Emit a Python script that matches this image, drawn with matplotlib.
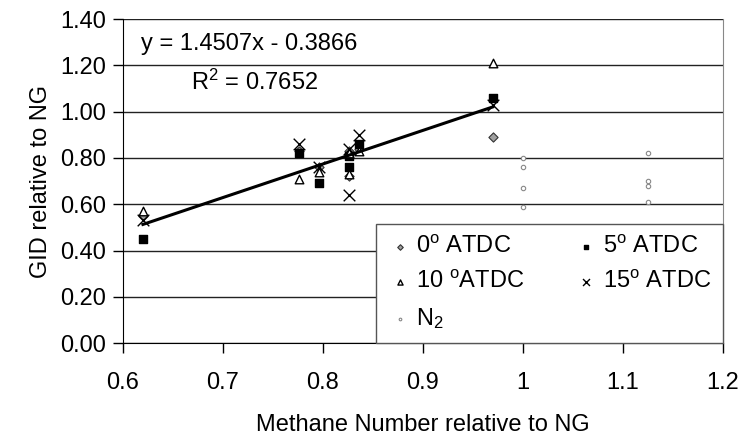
import numpy as np
import matplotlib
matplotlib.use("Agg")
import matplotlib.pyplot as plt

plt.rcParams['font.family'] = ['Liberation Sans', 'DejaVu Sans']
plt.rcParams['mathtext.fontset'] = 'custom'
plt.rcParams['mathtext.rm'] = 'Liberation Sans'
plt.rcParams['mathtext.it'] = 'Liberation Sans'

# Methane number relative to NG for each fuel
mn = [0.62, 0.776, 0.796, 0.826, 0.826, 0.836, 0.97]
gid_0 = [0.55, 0.83, 0.76, 0.83, 0.72, 0.84, 0.89]
gid_5 = [0.45, 0.82, 0.69, 0.81, 0.76, 0.86, 1.06]
gid_10 = [0.57, 0.71, 0.74, 0.82, 0.73, 0.83, 1.21]
gid_15 = [0.53, 0.86, 0.76, 0.84, 0.64, 0.90, 1.03]

# N2 diluted fuels
mn_n2 = [1.0, 1.0, 1.0, 1.0, 1.125, 1.125, 1.125, 1.125]
gid_n2 = [0.80, 0.76, 0.67, 0.59, 0.82, 0.70, 0.68, 0.61]

# trendline
slope = 1.4507
intercept = -0.3866

FS = 17

fig = plt.figure(figsize=(7.45, 4.45), dpi=100)
ax = fig.add_axes([0.165, 0.229, 0.805, 0.728])

ax.set_axisbelow(True)
ax.yaxis.grid(True, color='#222222', linewidth=1.0)

h0 = ax.scatter(mn, gid_0, marker='D', s=22, facecolor='#a0a0a0', edgecolor='#333333',
                linewidth=0.8, label='0$^{\\rm o}$ ATDC', zorder=3)
h5 = ax.scatter(mn, gid_5, marker='s', s=30, facecolor='black', edgecolor='black',
                label='5$^{\\rm o}$ ATDC', zorder=3)
h10 = ax.scatter(mn, gid_10, marker='^', s=38, facecolor='white', edgecolor='black',
                 linewidth=1.0, label='10 $^{\\rm o}$ATDC', zorder=3)
h15 = ax.scatter(mn, gid_15, marker='x', s=70, color='black', linewidth=1.0,
                 label='15$^{\\rm o}$ ATDC', zorder=3)
hn2 = ax.scatter(mn_n2, gid_n2, marker='o', s=10, facecolor='white', edgecolor='#888888',
                 linewidth=0.8, label='N$_2$', zorder=3)

xl = np.array([min(mn), max(mn)])
ax.plot(xl, slope * xl + intercept, color='black', linewidth=2.2, zorder=4)

ax.text(0.618, 1.294, 'y = 1.4507x - 0.3866', fontsize=FS, ha='left', va='center', zorder=5)
ax.text(0.668, 1.125, 'R$^2$ = 0.7652', fontsize=FS, ha='left', va='center', zorder=5)

ax.set_xlim(0.6, 1.2)
ax.set_ylim(0, 1.4)
ax.set_xticks([0.6, 0.7, 0.8, 0.9, 1.0, 1.1, 1.2])
ax.set_xticklabels(['0.6', '0.7', '0.8', '0.9', '1', '1.1', '1.2'])
ax.set_yticks(np.arange(0, 1.41, 0.2))
ax.set_yticklabels(['%.2f' % v for v in np.arange(0, 1.41, 0.2)])
ax.tick_params(axis='both', direction='out', length=7, width=1, labelsize=FS, pad=5)
ax.tick_params(axis='x', pad=14)

ax.spines['top'].set_visible(False)
ax.spines['right'].set_color('#888888')
ax.spines['left'].set_color('black')
ax.spines['bottom'].set_color('black')

ax.set_xlabel('Methane Number relative to NG', fontsize=FS, labelpad=14)
ax.set_ylabel('GID relative to NG', fontsize=FS, labelpad=6)

# column-major order so rows read 0/5, 10/15, N2
handles = [h0, h10, hn2, h5, h15]
labels = [h.get_label() for h in handles]
leg = ax.legend(handles, labels, loc='lower left',
                bbox_to_anchor=(0.422, 0.0, 0.578, 0.373),
                mode='expand', ncol=2, fontsize=FS, frameon=True, fancybox=False,
                borderaxespad=0, markerscale=0.6, handletextpad=0.2,
                columnspacing=0.3, borderpad=0.5, labelspacing=0.55,
                handlelength=1.0)
leg.get_frame().set_edgecolor('#555555')
leg.get_frame().set_linewidth(1.0)
leg.get_frame().set_alpha(1)
leg.set_zorder(6)

fig.savefig('out.png', dpi=100)
